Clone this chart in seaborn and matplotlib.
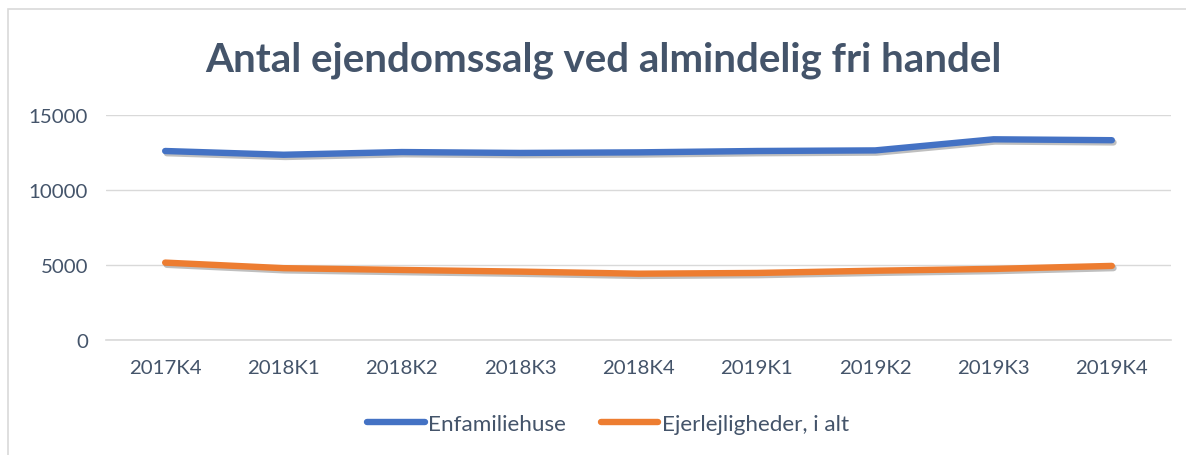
import matplotlib
matplotlib.use("Agg")
import matplotlib.pyplot as plt
import matplotlib.patheffects as pe
from matplotlib.patches import Rectangle
import seaborn as sns
import pandas as pd
import numpy as np

categories = ["2017K4", "2018K1", "2018K2", "2018K3", "2018K4",
              "2019K1", "2019K2", "2019K3", "2019K4"]
enfamiliehuse = [12600, 12350, 12530, 12470, 12510, 12600, 12640, 13380, 13320]
ejerlejligheder = [5160, 4790, 4670, 4560, 4420, 4470, 4620, 4740, 4940]
series_names = ["Enfamiliehuse", "Ejerlejligheder, i alt"]
y_ticks = [0, 5000, 10000, 15000]

sns.set_style("white")
plt.rcParams["font.family"] = ["Lato", "DejaVu Sans"]

text_col = "#44546A"
grid_col = "#D9D9D9"

df = pd.DataFrame({
    "Kvartal": categories * 2,
    "x": list(range(len(categories))) * 2,
    "Antal": enfamiliehuse + ejerlejligheder,
    "Serie": [series_names[0]] * len(categories) + [series_names[1]] * len(categories),
})

fig = plt.figure(figsize=(11.86, 4.56), dpi=100)
ax = fig.add_axes([106 / 1186, 1 - 341 / 456, (1171 - 106) / 1186, (341 - 116) / 456])

sns.lineplot(data=df, x="x", y="Antal", hue="Serie", hue_order=series_names,
             palette=["#4472C4", "#ED7D31"], linewidth=4.6, ax=ax, legend=False,
             solid_capstyle="round")
for ln in ax.lines:
    ln.set_path_effects([pe.SimpleLineShadow(offset=(1.2, -1.6), alpha=0.25, shadow_color="black"),
                         pe.Normal()])
    ln.set_solid_joinstyle("round")

ax.set_xlim(-0.5, len(categories) - 0.5)
ax.set_ylim(0, 15000)
ax.set_yticks(y_ticks)
ax.set_yticklabels([str(v) for v in y_ticks])
ax.set_xticks(range(len(categories)))
ax.set_xticklabels(categories)
ax.set_xticks(np.arange(-0.5, len(categories), 1.0), minor=True)
ax.tick_params(axis="x", which="major", length=0, pad=14, labelsize=14.7, colors=text_col)
ax.tick_params(axis="x", which="minor", length=7, width=1, color=grid_col, direction="out")
ax.tick_params(axis="y", length=0, pad=13, labelsize=14.7, colors=text_col)
ax.set_xlabel("")
ax.set_ylabel("")
ax.grid(axis="y", color=grid_col, linewidth=1)
ax.set_axisbelow(True)
for s in ["top", "right", "left"]:
    ax.spines[s].set_visible(False)
ax.spines["bottom"].set_color(grid_col)
ax.spines["bottom"].set_linewidth(1.2)
ax.spines["bottom"].set_zorder(0.5)

fig.text(603 / 1186, 1 - 60 / 456, "Antal ejendomssalg ved almindelig fri handel",
         ha="center", va="center", fontsize=29, fontweight="bold", color=text_col)

handles = [plt.Line2D([], [], color=c, linewidth=4.6, solid_capstyle="round")
           for c in ["#4472C4", "#ED7D31"]]
fig.legend(handles, series_names, loc="center", bbox_to_anchor=(608 / 1186, 1 - 425 / 456),
           ncol=2, frameon=False, fontsize=16.2, handlelength=2.55, handletextpad=0.15,
           columnspacing=1.55, labelcolor=text_col)

fig.patches.append(Rectangle((8 / 1186, -0.1), 1.2, 1 - 10 / 456 + 0.1, transform=fig.transFigure,
                             fill=False, edgecolor=grid_col, linewidth=1.2))

fig.savefig("out.png", dpi=100, facecolor="white")
